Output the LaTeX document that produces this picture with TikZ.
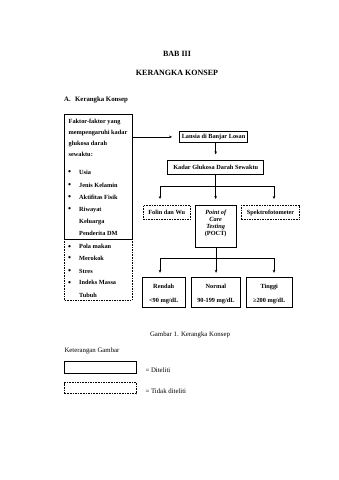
\documentclass[tikz,border=0pt]{standalone}
\usepackage{fontspec}
\setmainfont{Liberation Serif}
\usetikzlibrary{arrows.meta}
\begin{document}
\begin{tikzpicture}[x=1pt,y=-1pt,
  box/.style={draw, line width=0.8pt, inner sep=0pt, anchor=north west},
  solidbox/.style={box},
  dashbox/.style={box, dash pattern=on 1.6pt off 1pt},
  boxtext/.style={font=\fontsize{6.3}{7.2}\selectfont\bfseries},
  twoline/.style={font=\fontsize{6.3}{14}\selectfont\bfseries, align=center},
  lefttext/.style={font=\fontsize{6.3}{7.2}\selectfont\bfseries, inner sep=0pt, anchor=base west},
  bullettext/.style={font=\fontsize{8.5}{9}\selectfont\bfseries, inner sep=0pt, anchor=base west},
  bodytext/.style={font=\fontsize{6.8}{8}\selectfont, inner sep=0pt},
  titletext/.style={font=\fontsize{8}{9}\selectfont\bfseries, inner sep=0pt},
  conn/.style={line width=0.6pt},
  arr/.style={conn, -{Stealth[length=3pt,width=2.6pt]}},
]
\useasboundingbox (0,0) rectangle (339,480);

% titles
\node[titletext] (bab) at (177,54) {BAB III};
\node[titletext] (kk) at (177,72.5) {KERANGKA KONSEP};
\node[bodytext, font=\fontsize{6.8}{8}\selectfont\bfseries, anchor=base west] (sub) at (64,101) {A.\hspace{4.4pt}Kerangka Konsep};

% left boxes
\node[solidbox, minimum width=67.4pt, minimum height=124.7pt] (faktor) at (64.3,114.3) {};
\node[dashbox, minimum width=67.4pt, minimum height=61pt] (faktor2) at (64.3,239) {};

\node[lefttext] (h1) at (68.5,123.7) {Faktor-faktor yang};
\node[lefttext] (h2) at (68.5,134.3) {mempengaruhi kadar};
\node[lefttext] (h3) at (68.5,145.3) {glukosa darah};
\node[lefttext] (h4) at (68.5,156.3) {sewaktu:};

\foreach \y/\t [count=\i] in {174.3/Usia, 187/Jenis Kelamin, 199.3/Aktifitas Fisik, 211.3/Riwayat, 248.7/Pola makan, 260.3/Merokok, 273/Stres, 284.7/Indeks Massa}{
  \node[bullettext] (bu\i) at (68,\y+0.6) {•};
  \node[lefttext] (bt\i) at (79,\y) {\t};
}
\node[lefttext] (bt9) at (79,223.7) {Keluarga};
\node[lefttext] (bt10) at (79,235.3) {Penderita DM};
\node[lefttext] (bt11) at (79,297) {Tubuh};

% right boxes
\node[solidbox, minimum width=68.3pt, minimum height=11.6pt] (lansia) at (179,130.7) {};
\node[boxtext] (lansiat) at (lansia.center) {Lansia di Banjar Losan};
\node[solidbox, minimum width=96pt, minimum height=13.7pt] (kadar) at (167.3,160.3) {};
\node[boxtext] (kadart) at (kadar.center) {Kadar Glukosa Darah Sewaktu};

\node[dashbox, minimum width=47.3pt, minimum height=14.3pt] (folin) at (142.7,205) {};
\node[boxtext] (folint) at (folin.center) {Folin dan Wu};
\node[solidbox, minimum width=40.7pt, minimum height=42.3pt] (poct) at (195.3,205) {};
\node[boxtext, align=center, inner sep=0pt] (poctt) at (215.7,223.5) {\itshape Point of\\\itshape Care\\\itshape Testing\\(POCT)};
\node[dashbox, minimum width=58.3pt, minimum height=14.3pt] (spek) at (241,205) {};
\node[boxtext] (spekt) at (spek.center) {Spektrofotometer};

\node[solidbox, minimum width=43.3pt, minimum height=30pt] (rendah) at (141.7,277.3) {};
\node[twoline] (rendaht) at ([yshift=-1.5pt]rendah.center) {Rendah\\<90 mg/dL};
\node[solidbox, minimum width=49pt, minimum height=30pt] (normal) at (191,277.3) {};
\node[twoline] (normalt) at ([yshift=-1.5pt]normal.center) {Normal\\90-199 mg/dL};
\node[solidbox, minimum width=45.7pt, minimum height=30pt] (tinggi) at (246,277.3) {};
\node[twoline] (tinggit) at ([yshift=-1.5pt]tinggi.center) {Tinggi\\≥200 mg/dL};

% connectors
\draw[arr, shorten >=7pt] (lansia.west -| faktor.east) -- (lansia.west);
\draw[arr, shorten >=6pt] (lansia.south -| kadar.south) -- (kadar.north);

\coordinate (jl) at (160,186);
\coordinate (jr) at (274,186);
\draw[conn] (kadar.south) -- (kadar.south |- jl);
\draw[conn] (jl) -- (jr);
\draw[arr, shorten >=6pt] (jl) -- (jl |- folin.north);
\draw[arr, shorten >=6pt] (kadar.south |- jl) -- (kadar.south |- poct.north);
\draw[arr, shorten >=6pt] (jr) -- (jr |- spek.north);

\coordinate (kl) at (160,258.3);
\coordinate (kr) at (274,258.3);
\draw[conn] (poct.south) -- (poct.south |- kl);
\draw[conn] (kl) -- (kr);
\draw[arr, shorten >=4.5pt] (kl) -- (kl |- rendah.north);
\draw[arr, shorten >=4.5pt] (poct.south |- kl) -- (poct.south |- normal.north);
\draw[arr, shorten >=4.5pt] (kr) -- (kr |- tinggi.north);

% caption and legend
\node[bodytext] (cap) at (190,335) {Gambar 1. Kerangka Konsep};
\node[bodytext, anchor=base west] (ket) at (64.3,352) {Keterangan Gambar};
\node[solidbox, minimum width=71.7pt, minimum height=11.7pt] (lg1) at (64.3,361) {};
\node[dashbox, minimum width=71.7pt, minimum height=11pt] (lg2) at (64.3,382.3) {};
\node[bodytext, anchor=base west] (lg1t) at (145.3,372.7) {= Diteliti};
\node[bodytext, anchor=base west] (lg2t) at (145.3,393) {= Tidak diteliti};
\end{tikzpicture}
\end{document}
